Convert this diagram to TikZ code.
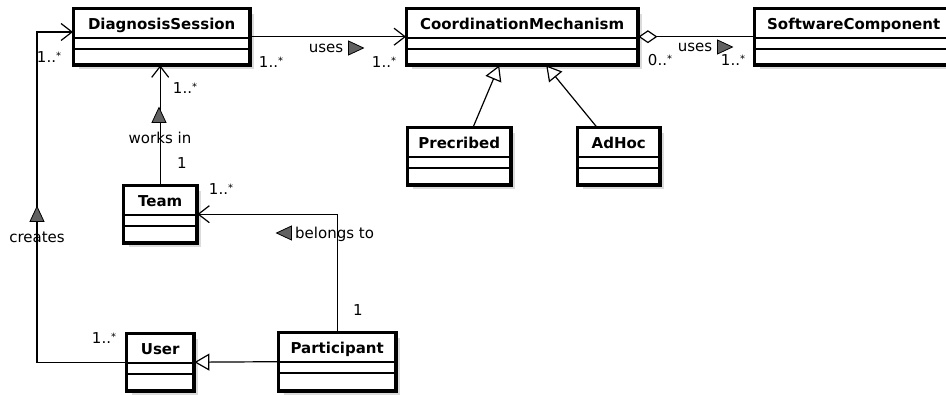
\documentclass[tikz,border=0pt]{standalone}
\usepackage{fontspec}
\setmainfont{DejaVu Sans}
\usetikzlibrary{arrows.meta,calc}

\newcommand\mstar{\raisebox{2.5pt}{\fontsize{10}{10}\selectfont *}}
\newcommand\many{1..\mstar}

\tikzset{
  shadowc/.style={fill=black!14},
  classbox/.style={draw=black, line width=2.4pt, fill=white, rectangle,
    inner sep=0pt, anchor=north west},
  classname/.style={font=\fontsize{15}{18}\selectfont\bfseries, inner sep=0pt, anchor=base},
  divider/.style={line width=1.1pt},
  lbl/.style={font=\fontsize{15}{18}\selectfont, inner sep=0pt},
  conn/.style={line width=1.2pt, line cap=round, line join=miter},
  assoc/.style={conn, -{Straight Barb[length=11pt,width=17pt,line width=1.2pt]}},
  gen/.style={conn, -{Triangle[open,length=15pt,width=17pt,fill=white,line width=1.2pt]}},
  aggr/.style={conn, {Diamond[open,length=19pt,width=13pt,fill=white,line width=1.2pt]}-},
  dirtri/.style={fill=black!62, draw=black, line width=0.8pt, line join=miter},
}

% class box: name, left, top, width, height, title
\newcommand\umlclass[6]{%
  \fill[shadowc] (#2+6,#3+6) rectangle ++(#4,#5);
  \node[classbox, minimum width=#4pt, minimum height=#5pt] (#1) at (#2,#3) {};
  \draw[divider] ($(#1.north west)+(0,30)$) -- ($(#1.north east)+(0,30)$);
  \draw[divider] ($(#1.north west)+(0,41)$) -- ($(#1.north east)+(0,41)$);
  \draw[line width=2.4pt] (#1.north west) rectangle (#1.south east);
  \node[classname] (#1-title) at ($(#1.north)+(0,21.5)$) {#6};
}

% filled direction marker: centre x, centre y, rotation (0 = pointing right)
\newcommand\dirmark[3]{%
  \draw[dirtri, shift={(#1,#2)}, rotate=#3] (7.5,0) -- (-7.5,-7) -- (-7.5,7) -- cycle;
}

\begin{document}
\begin{tikzpicture}[x=1pt,y=-1pt]
\useasboundingbox (0,0) rectangle (946,395);

% classes
\umlclass{DS}{73}{8}{175}{55}{DiagnosisSession}
\umlclass{CM}{406}{8}{230}{55}{CoordinationMechanism}
\umlclass{SC}{754}{8}{197}{55}{SoftwareComponent}
\umlclass{Pre}{407}{127}{102}{56}{Precribed}
\umlclass{Adhoc}{577}{127}{81}{56}{AdHoc}
\umlclass{Team}{123}{185}{72}{56}{Team}
\umlclass{User}{126}{333}{66}{56}{User}
\umlclass{Part}{278}{332}{116}{57}{Participant}

% DiagnosisSession uses CoordinationMechanism
\draw[assoc] (DS.east) -- (CM.west);
\node[lbl] (m1) at (271,62) {\many};
\node[lbl] (uses1) at (326,48) {uses};
\dirmark{356}{48}{0}
\node[lbl] (m2) at (384,62) {\many};

% CoordinationMechanism uses SoftwareComponent (aggregation)
\draw[aggr] (CM.east) -- (SC.west);
\node[lbl] (m3) at (660,60) {0..\mstar};
\node[lbl] (uses2) at (695,47) {uses};
\dirmark{725}{47}{0}
\node[lbl] (m4) at (733,60) {\many};

% specialisations of CoordinationMechanism
\draw[gen] ($(Pre.north)+(14,0)$) -- ($(CM.south)+(-23,0)$);
\draw[gen] ($(Adhoc.north)+(-22,0)$) -- ($(CM.south)+(24,0)$);

% Team works in DiagnosisSession
\draw[assoc] (Team.north) -- (Team.north |- DS.south);
\node[lbl] (m5) at (185,88) {\many};
\dirmark{159}{115}{90}
\node[lbl] (works) at (160,138) {works in};
\node[lbl] (m6) at (182,163) {1};

% Participant belongs to Team
\draw[assoc] (Part.north) |- (Team.east);
\node[lbl] (m7) at (221,189) {\many};
\dirmark{284}{233}{180}
\node[lbl, anchor=west] (belongs) at (295,234) {belongs to};
\node[lbl] (m8) at (358,310) {1};

% Participant is a User
\draw[gen] (Part.west) -- (User.east);

% User creates DiagnosisSession
\coordinate (bend) at (37,32);
\draw[assoc] (User.west) -| (bend) -- (DS.west |- bend);
\dirmark{37}{214}{90}
\node[lbl] (creates) at (37,237) {creates};
\node[lbl] (m9) at (104,338) {\many};
\node[lbl] (m10) at (49,57) {\many};
\end{tikzpicture}
\end{document}
